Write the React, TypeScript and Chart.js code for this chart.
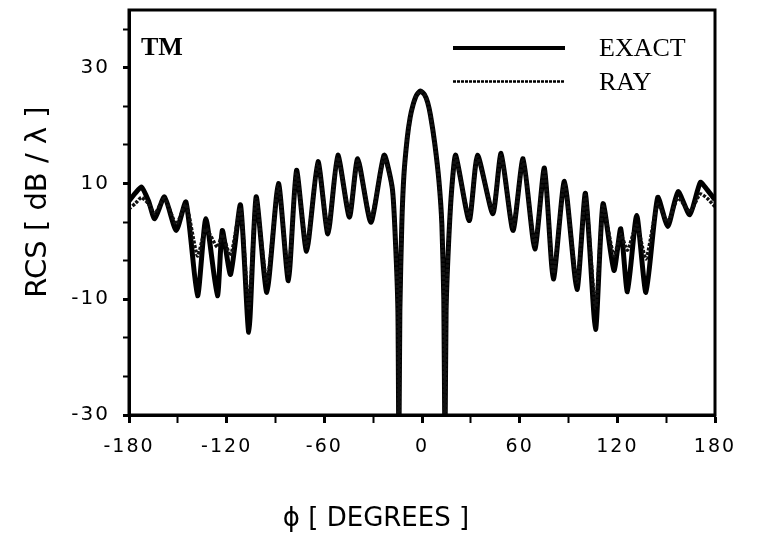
import React, { useEffect, useRef } from "react";
import { Chart, registerables } from "chart.js";

Chart.register(...registerables);

// Scattering angle (degrees)
const angles = [
  -180, -176, -172.3, -168, -164.2, -158.2, -151, -145, -137.9, -132.8, -125.7, -122.7,
  -117.6, -111.5, -106.4, -101.9, -95.3, -88.2, -82.1, -77.1, -70.9, -63.9, -57.8,
  -51.7, -44.6, -39.5, -31.4, -23.3, -18.2, -16.2, -14.8, -14.2, -13.6, -12.4, -11.1, -9.1,
  -7.3, -5.5, -3.5, -1, 1.5, 3.5, 5.2, 7.8, 10.4, 12.2, 13.4, 14.1, 14.8, 16.3, 18.3, 20.7, 29, 34.1,
  43.5, 48.6, 55.9, 62.1, 69.3, 75.2, 80.7, 87.5, 95.2, 100.4, 106.6, 111.2, 117.9,
  122.1, 126.2, 131.9, 137.6, 144.8, 151, 157.3, 164.5, 171, 175, 180,
];

// RCS, exact solution (dB/lambda)
const exactRCS = [
  7.0, 8.4, 9.4, 7.0, 3.9, 7.7, 1.9, 6.8, -9.4, 3.9, -9.4, 1.9,
  -5.7, 6.3, -15.7, 7.7, -8.8, 10.0, -6.8, 12.3, -1.7, 13.8, 1.3,
  14.9, 4.2, 14.3, 3.3, 14.9, 9.1, -0.7, -12, -36, -12, 3, 11.5, 17.8,
  21.4, 23.6, 25.2, 26.0, 25.4, 24.0, 21.8, 17.0, 10.5, 3, -10, -36, -12, -0.5, 9.2, 14.9, 3.6, 14.9,
  4.8, 15.2, 1.9, 14.3, -1.3, 12.7, -6.5, 10.4, -8.3, 8.3, -15.2, 6.5, -5.0,
  2.2, -8.7, 4.5, -8.8, 7.6, 2.6, 8.6, 4.6, 10.2, 9.0, 7.2,
];

// RCS, ray solution (dB/lambda)
const rayRCS = [
  5.6, 6.6, 7.6, 6.5, 4.8, 7.4, 3.0, 6.4, -2.5, 2.2, -1.0, 1.2,
  -2.5, 5.8, -11.5, 7.3, -7.0, 9.6, -5.5, 11.9, -0.8, 13.4, 2.0,
  14.5, 4.8, 13.9, 4.0, 14.5, 9.0, -0.5, -12, -36, -12, 3, 11.5, 17.8,
  21.4, 23.6, 25.2, 26.0, 25.4, 24.0, 21.8, 17.0, 10.5, 3, -10, -36, -12, -0.3, 9.0, 14.5, 4.2, 14.5,
  5.2, 14.8, 2.5, 13.9, -0.5, 12.3, -5.5, 10.0, -7.0, 8.0, -11.5, 6.0, -2.5,
  1.2, -1.5, 2.8, -3.0, 6.4, 3.4, 7.5, 5.2, 8.2, 7.5, 6.0,
];

const xTickValues = [-180, -150, -120, -90, -60, -30, 0, 30, 60, 90, 120, 150, 180];
const xLabelValues = [-180, -120, -60, 0, 60, 120, 180];
const yTickValues = [-30, -23.333, -16.667, -10, -3.333, 3.333, 10, 16.667, 23.333, 30, 36.667];
const yLabelValues = [-30, -10, 10, 30];

const seriesNames = ["EXACT", "RAY"];
const panelLabel = "TM";
const xTitle = "\u03d5 [ DEGREES ]";
const yTitle = "RCS [ dB / \u03bb ]";

const W = 757;
const H = 533;

const isYLabel = (v: number) => yLabelValues.some((l) => Math.abs(l - v) < 0.01);

const decorPlugin = {
  id: "decor",
  beforeDraw(chart: any) {
    (chart.ctx as any).letterSpacing = "2px";
  },
  afterDatasetsDraw(chart: any) {
    const { ctx, chartArea: a } = chart;
    ctx.save();
    ctx.strokeStyle = "#000";
    ctx.lineWidth = 3;
    ctx.strokeRect(a.left, a.top, a.right - a.left, a.bottom - a.top);
    ctx.restore();
  },
  afterDraw(chart: any) {
    const ctx = chart.ctx;
    ctx.save();
    (ctx as any).letterSpacing = "0px";
    ctx.fillStyle = "#000";
    ctx.strokeStyle = "#000";
    // panel label
    ctx.font = "bold 26px 'Liberation Serif'";
    ctx.textAlign = "left";
    ctx.textBaseline = "alphabetic";
    ctx.fillText(panelLabel, 141, 55);
    // legend
    ctx.lineWidth = 4;
    ctx.beginPath();
    ctx.moveTo(453, 48);
    ctx.lineTo(565, 48);
    ctx.stroke();
    ctx.lineWidth = 2.5;
    ctx.setLineDash([3, 1]);
    ctx.beginPath();
    ctx.moveTo(453, 81.5);
    ctx.lineTo(565, 81.5);
    ctx.stroke();
    ctx.setLineDash([]);
    ctx.font = "26px 'Liberation Serif'";
    ctx.fillText(seriesNames[0], 599, 56);
    ctx.fillText(seriesNames[1], 599, 90);
    // axis titles
    ctx.font = "26px 'DejaVu Sans'";
    ctx.textAlign = "center";
    ctx.fillText(xTitle, 376, 526);
    ctx.font = "29px 'DejaVu Sans'";
    ctx.translate(46, 202);
    ctx.rotate(-Math.PI / 2);
    ctx.fillText(yTitle, 0, 0);
    ctx.restore();
  },
};

export default function App() {
  const ref = useRef<HTMLCanvasElement | null>(null);
  useEffect(() => {
    if (!ref.current) return;
    const mk = (vals: number[]) => angles.map((a, i) => ({ x: a, y: vals[i] }));
    const chart = new Chart(ref.current, {
      type: "line",
      data: {
        datasets: [
          {
            label: seriesNames[1],
            data: mk(rayRCS),
            borderColor: "#111",
            borderWidth: 3.5,
            borderDash: [3, 1.5],
            pointRadius: 0,
            tension: 0.2,
            borderJoinStyle: "round",
          },
          {
            label: seriesNames[0],
            data: mk(exactRCS),
            borderColor: "#000",
            borderWidth: 5,
            pointRadius: 0,
            tension: 0.2,
            borderJoinStyle: "round",
          },
        ],
      },
      options: {
        animation: false,
        responsive: false,
        layout: { padding: { top: 10, right: 42, bottom: 0, left: 0 } },
        plugins: { legend: { display: false }, tooltip: { enabled: false } },
        scales: {
          x: {
            type: "linear",
            min: -180,
            max: 180,
            afterBuildTicks: (s: any) => {
              s.ticks = xTickValues.map((v) => ({ value: v }));
            },
            afterFit: (s: any) => {
              s.height = 118;
              s.paddingLeft = 0;
              s.paddingRight = 0;
            },
            ticks: {
              autoSkip: false,
              maxRotation: 0,
              padding: 13,
              color: "#000",
              font: { family: "'DejaVu Sans'", size: 19 },
              callback: (v: any) => (xLabelValues.includes(Number(v)) ? String(v) : ""),
            },
            grid: {
              drawOnChartArea: false,
              drawTicks: true,
              tickLength: 8,
              tickColor: "#000",
              tickWidth: (c: any) => (c.tick && xLabelValues.includes(c.tick.value) ? 3 : 2),
            },
            border: { display: true, color: "#000", width: 3 },
          },
          y: {
            type: "linear",
            min: -30,
            max: 40,
            afterBuildTicks: (s: any) => {
              s.ticks = yTickValues.map((v) => ({ value: v }));
            },
            afterFit: (s: any) => {
              s.width = 129;
              s.paddingTop = 0;
              s.paddingBottom = 0;
            },
            ticks: {
              autoSkip: false,
              padding: 13,
              color: "#000",
              font: { family: "'DejaVu Sans'", size: 20 },
              callback: (v: any) => (isYLabel(Number(v)) ? String(Math.round(Number(v))) : ""),
            },
            grid: {
              drawOnChartArea: false,
              drawTicks: true,
              tickLength: 6,
              tickColor: "#000",
              tickWidth: (c: any) => (c.tick && isYLabel(c.tick.value) ? 3 : 2),
            },
            border: { display: true, color: "#000", width: 3 },
          },
        },
      },
      plugins: [decorPlugin],
    } as any);
    return () => chart.destroy();
  }, []);
  return (
    <div style={{ position: "fixed", left: 0, top: 0, width: W, height: H, background: "#fff" }}>
      <canvas ref={ref} width={W} height={H} style={{ width: W, height: H }} />
    </div>
  );
}
